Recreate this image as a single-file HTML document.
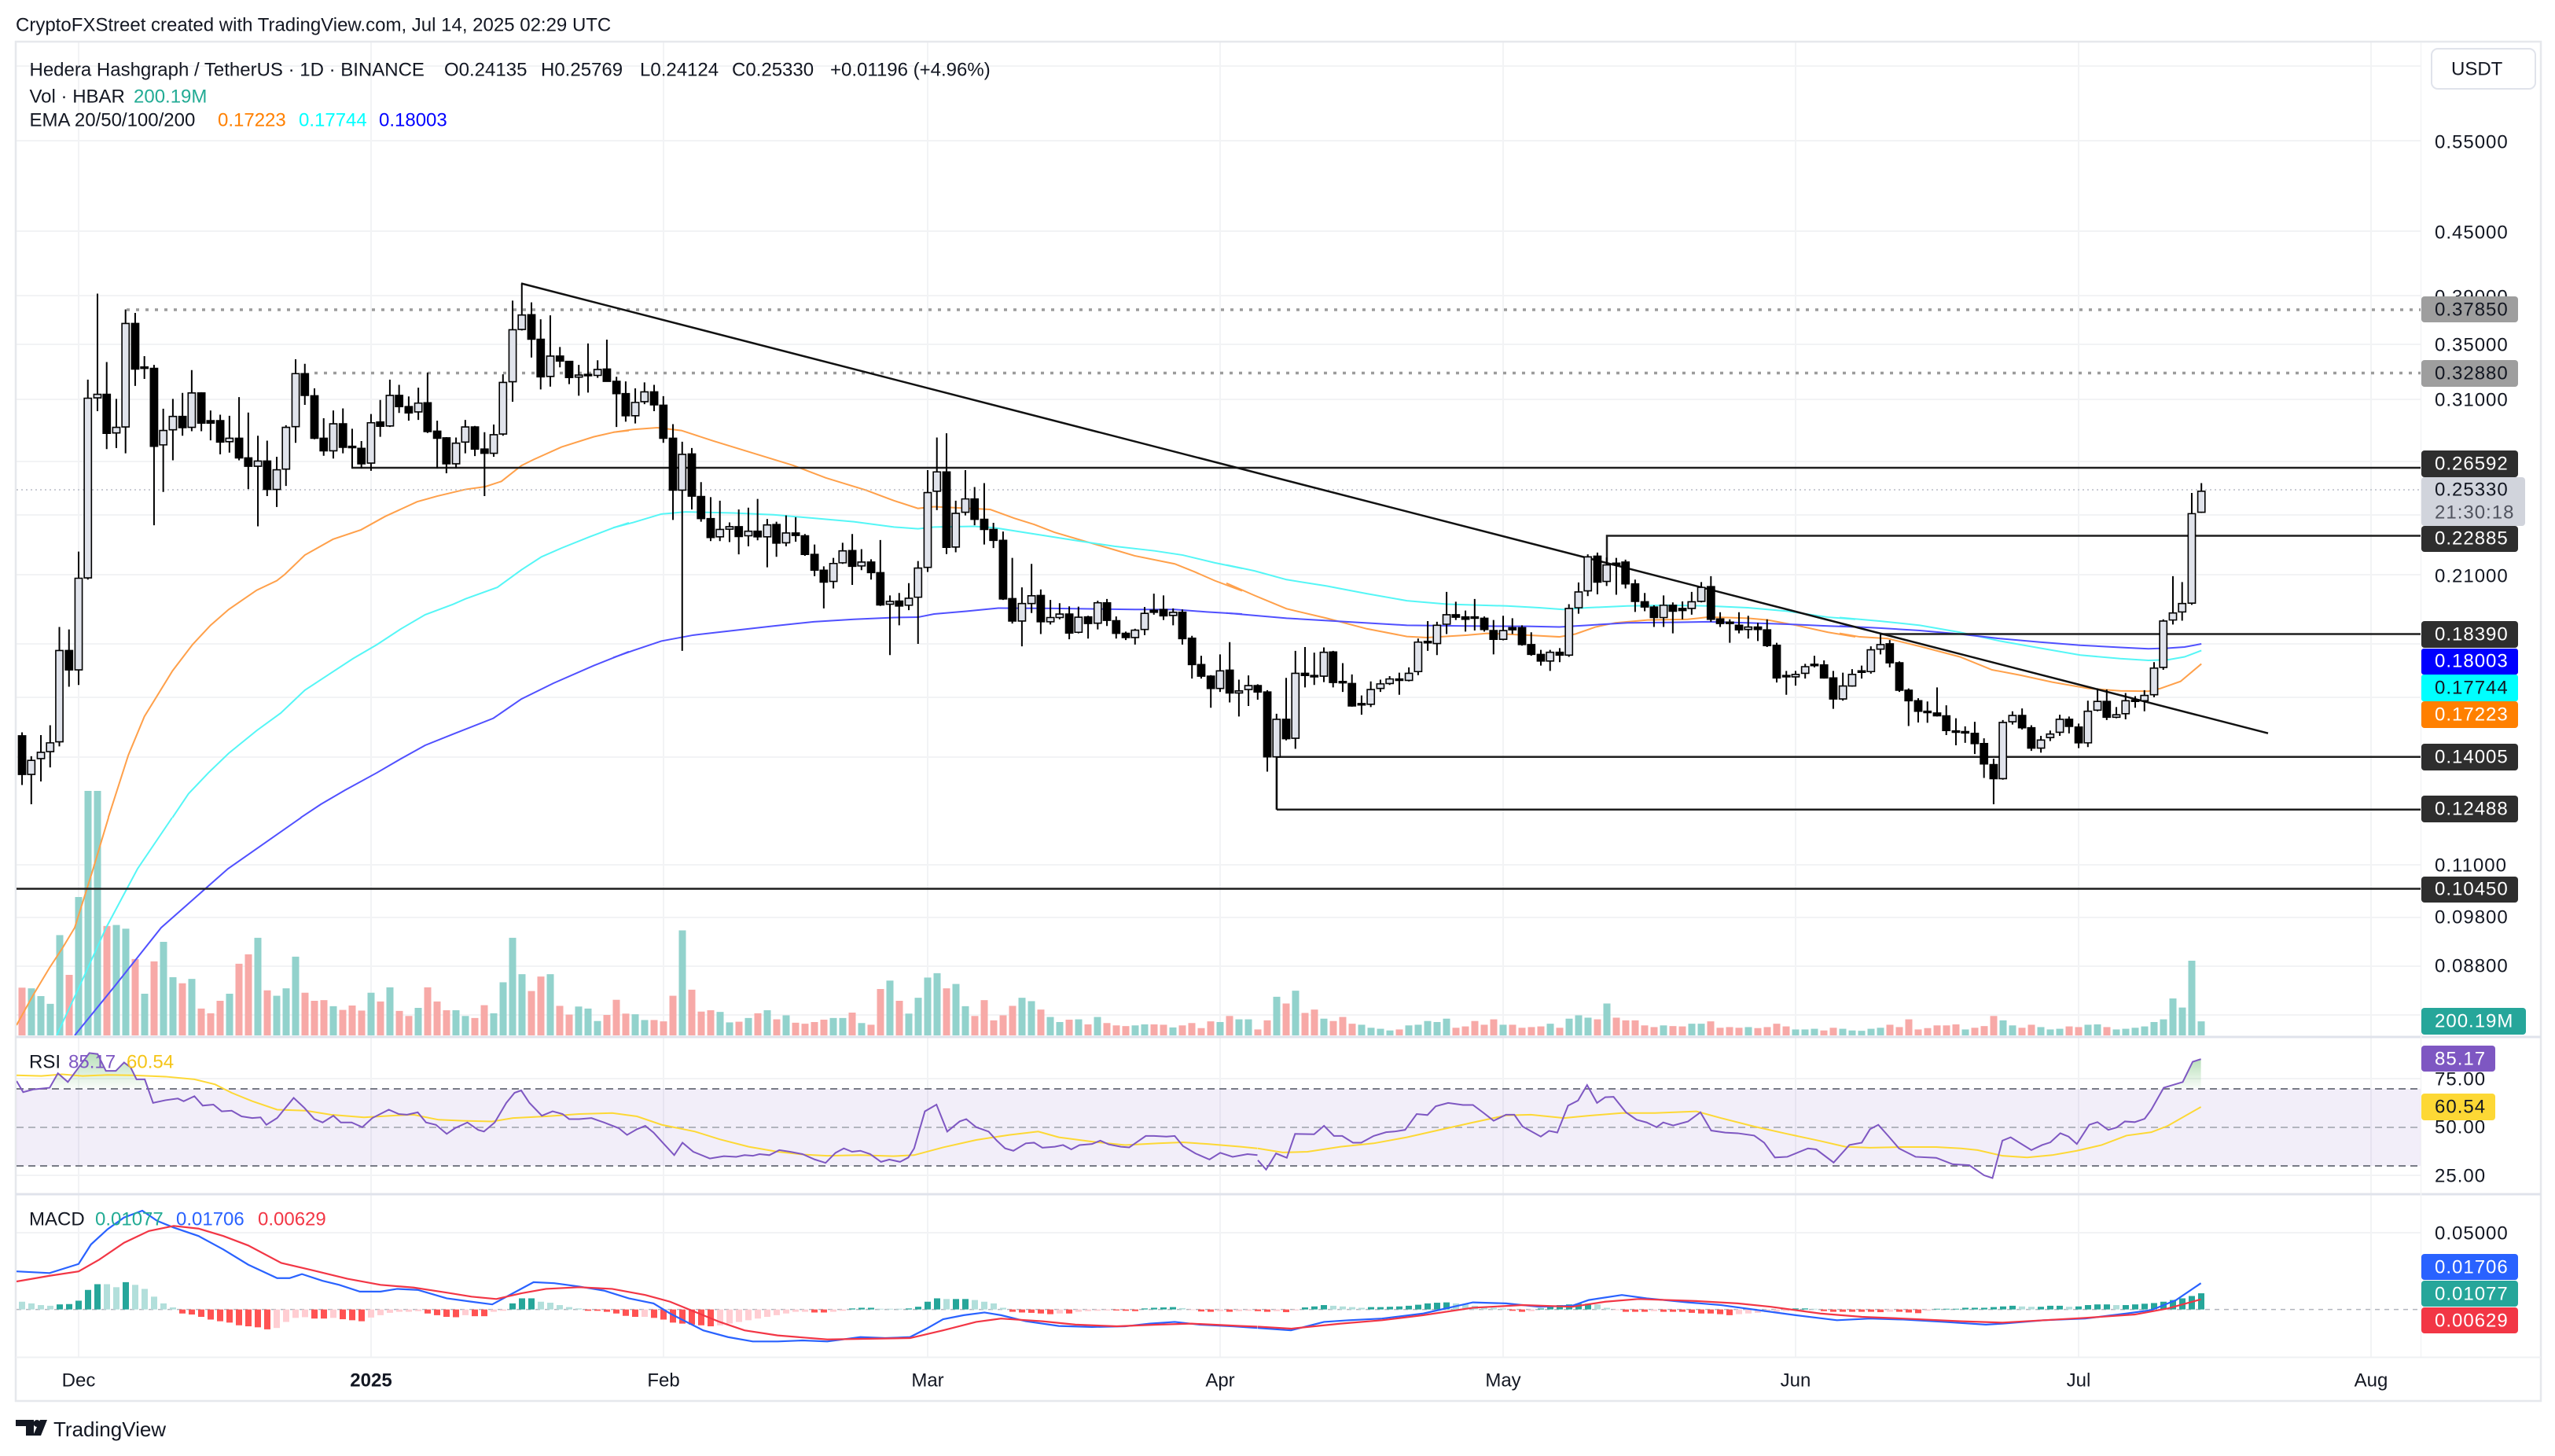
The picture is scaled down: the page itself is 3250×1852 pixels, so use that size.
<!DOCTYPE html>
<html><head><meta charset="utf-8"><style>
html,body{margin:0;padding:0;background:#fff;width:3250px;height:1852px;overflow:hidden}
svg{display:block}
svg *{vector-effect:non-scaling-stroke}
text{font-family:"Liberation Sans",Arial,sans-serif}
</style></head><body>
<svg width="3250" height="1852" viewBox="0 0 3250 1852" xmlns="http://www.w3.org/2000/svg">
<defs>
<clipPath id="cm"><rect x="21" y="54" width="3058" height="1263"/></clipPath>
<clipPath id="cr"><rect x="21" y="1320" width="3058" height="197"/></clipPath>
<clipPath id="cd"><rect x="21" y="1520" width="3058" height="206"/></clipPath>
<linearGradient id="gg" x1="0" y1="0" x2="0" y2="1"><stop offset="0" stop-color="#4caf50" stop-opacity="0.4"/><stop offset="1" stop-color="#4caf50" stop-opacity="0.03"/></linearGradient>
</defs>
<rect width="3250" height="1852" fill="#fff"/>

<!-- header -->
<text x="20" y="32" font-size="24" fill="#131722" dominant-baseline="central">CryptoFXStreet created with TradingView.com, Jul 14, 2025 02:29 UTC</text>

<!-- grid -->
<g stroke="#f2f3f5" stroke-width="2" fill="none">
<path d="M21 84H3079M21 179H3079M21 294H3079M21 376H3079M21 438H3079M21 508H3079M21 587H3079M21 655H3079M21 731H3079M21 819H3079M21 887H3079M21 963H3079M21 1100H3079M21 1167H3079M21 1229H3079M21 1291H3079"/>
<path d="M21 1372H3079M21 1495H3079M21 1568H3079"/>
<path d="M100 54V1726M472 54V1726M844 54V1726M1180 54V1726M1552 54V1726M1912 54V1726M2284 54V1726M2644 54V1726M3016 54V1726"/>
</g>

<!-- frame -->
<g fill="none" stroke="#e6e8ec" stroke-width="2.5">
<path d="M20 53H3232V1782H20Z"/>
</g>
<path d="M20 1319H3232M20 1519H3232" stroke="#e0e3eb" stroke-width="3"/>
<path d="M20 1726.5H3232" stroke="#eff0f3" stroke-width="2"/>
<path d="M3079.5 54V1726" stroke="#f3f4f6" stroke-width="1.5"/>

<!-- legend -->
<g font-size="24" fill="#131722" dominant-baseline="central">
<text x="37.5" y="89">Hedera Hashgraph / TetherUS · 1D · BINANCE</text>
<text x="565" y="89">O0.24135</text>
<text x="688" y="89">H0.25769</text>
<text x="814" y="89">L0.24124</text>
<text x="931" y="89">C0.25330</text>
<text x="1056" y="89">+0.01196 (+4.96%)</text>
<text x="37.5" y="123">Vol · HBAR</text>
<text x="170" y="123" fill="#22ab94">200.19M</text>
<text x="37.5" y="153">EMA 20/50/100/200</text>
<text x="277" y="153" fill="#ff8000">0.17223</text>
<text x="380" y="153" fill="#00ffff">0.17744</text>
<text x="482" y="153" fill="#0000ff">0.18003</text>
</g>

<!-- MAIN PANE -->
<g clip-path="url(#cm)">
<!-- volume -->
<g transform="translate(0,1180) scale(1,0.4286)">
<g fill="#92d2cc">
<rect x="35.5" y="180" width="9" height="140"/><rect x="47.5" y="203" width="9" height="117"/><rect x="59.5" y="226" width="9" height="94"/><rect x="71.5" y="22" width="9" height="298"/><rect x="95.5" y="-91" width="9" height="411"/><rect x="107.5" y="-406" width="9" height="726"/><rect x="119.5" y="-406" width="9" height="726"/><rect x="143.5" y="-8" width="9" height="328"/><rect x="155.5" y="3" width="9" height="317"/><rect x="179.5" y="196" width="9" height="124"/><rect x="203.5" y="42" width="9" height="278"/><rect x="215.5" y="147" width="9" height="173"/><rect x="239.5" y="152" width="9" height="168"/><rect x="287.5" y="196" width="9" height="124"/><rect x="323.5" y="30" width="9" height="290"/><rect x="347.5" y="202" width="9" height="118"/><rect x="359.5" y="180" width="9" height="140"/><rect x="371.5" y="86" width="9" height="234"/><rect x="419.5" y="233" width="9" height="87"/><rect x="467.5" y="193" width="9" height="127"/><rect x="491.5" y="177" width="9" height="143"/><rect x="527.5" y="238" width="9" height="82"/><rect x="575.5" y="245" width="9" height="75"/><rect x="587.5" y="262" width="9" height="58"/><rect x="623.5" y="254" width="9" height="66"/><rect x="635.5" y="162" width="9" height="158"/><rect x="647.5" y="30" width="9" height="290"/><rect x="659.5" y="138" width="9" height="182"/><rect x="695.5" y="138" width="9" height="182"/><rect x="731.5" y="234" width="9" height="86"/><rect x="743.5" y="240" width="9" height="80"/><rect x="755.5" y="277" width="9" height="43"/><rect x="803.5" y="257" width="9" height="63"/><rect x="815.5" y="274" width="9" height="46"/><rect x="863.5" y="8" width="9" height="312"/><rect x="911.5" y="250" width="9" height="70"/><rect x="923.5" y="281" width="9" height="39"/><rect x="947.5" y="268" width="9" height="52"/><rect x="971.5" y="245" width="9" height="75"/><rect x="995.5" y="260" width="9" height="60"/><rect x="1055.5" y="268" width="9" height="52"/><rect x="1067.5" y="268" width="9" height="52"/><rect x="1091.5" y="283" width="9" height="37"/><rect x="1127.5" y="157" width="9" height="163"/><rect x="1151.5" y="255" width="9" height="65"/><rect x="1163.5" y="208" width="9" height="112"/><rect x="1175.5" y="148" width="9" height="172"/><rect x="1187.5" y="135" width="9" height="185"/><rect x="1211.5" y="167" width="9" height="153"/><rect x="1223.5" y="233" width="9" height="87"/><rect x="1295.5" y="208" width="9" height="112"/><rect x="1307.5" y="218" width="9" height="102"/><rect x="1331.5" y="265" width="9" height="55"/><rect x="1343.5" y="280" width="9" height="40"/><rect x="1367.5" y="272" width="9" height="48"/><rect x="1391.5" y="265" width="9" height="55"/><rect x="1439.5" y="290" width="9" height="30"/><rect x="1451.5" y="287" width="9" height="33"/><rect x="1487.5" y="296" width="9" height="24"/><rect x="1547.5" y="280" width="9" height="40"/><rect x="1571.5" y="272" width="9" height="48"/><rect x="1583.5" y="272" width="9" height="48"/><rect x="1619.5" y="205" width="9" height="115"/><rect x="1643.5" y="187" width="9" height="133"/><rect x="1679.5" y="270" width="9" height="50"/><rect x="1727.5" y="288" width="9" height="32"/><rect x="1739.5" y="297" width="9" height="23"/><rect x="1751.5" y="300" width="9" height="20"/><rect x="1763.5" y="305" width="9" height="15"/><rect x="1787.5" y="290" width="9" height="30"/><rect x="1799.5" y="288" width="9" height="32"/><rect x="1811.5" y="277" width="9" height="43"/><rect x="1823.5" y="280" width="9" height="40"/><rect x="1835.5" y="270" width="9" height="50"/><rect x="1907.5" y="288" width="9" height="32"/><rect x="1967.5" y="285" width="9" height="35"/><rect x="1991.5" y="270" width="9" height="50"/><rect x="2003.5" y="260" width="9" height="60"/><rect x="2015.5" y="267" width="9" height="53"/><rect x="2039.5" y="225" width="9" height="95"/><rect x="2111.5" y="290" width="9" height="30"/><rect x="2147.5" y="285" width="9" height="35"/><rect x="2159.5" y="285" width="9" height="35"/><rect x="2219.5" y="295" width="9" height="25"/><rect x="2279.5" y="302" width="9" height="18"/><rect x="2291.5" y="302" width="9" height="18"/><rect x="2303.5" y="300" width="9" height="20"/><rect x="2339.5" y="300" width="9" height="20"/><rect x="2351.5" y="305" width="9" height="15"/><rect x="2363.5" y="306" width="9" height="14"/><rect x="2375.5" y="300" width="9" height="20"/><rect x="2387.5" y="297" width="9" height="23"/><rect x="2495.5" y="302" width="9" height="18"/><rect x="2543.5" y="275" width="9" height="45"/><rect x="2555.5" y="290" width="9" height="30"/><rect x="2591.5" y="295" width="9" height="25"/><rect x="2603.5" y="302" width="9" height="18"/><rect x="2615.5" y="300" width="9" height="20"/><rect x="2651.5" y="288" width="9" height="32"/><rect x="2663.5" y="287" width="9" height="33"/><rect x="2687.5" y="302" width="9" height="18"/><rect x="2699.5" y="300" width="9" height="20"/><rect x="2711.5" y="297" width="9" height="23"/><rect x="2723.5" y="293" width="9" height="27"/><rect x="2735.5" y="280" width="9" height="40"/><rect x="2747.5" y="272" width="9" height="48"/><rect x="2759.5" y="210" width="9" height="110"/><rect x="2771.5" y="237" width="9" height="83"/><rect x="2783.5" y="98" width="9" height="222"/><rect x="2795.5" y="278" width="9" height="42"/>
</g>
<g fill="#f7a9a7">
<rect x="23.5" y="178" width="9" height="142"/><rect x="83.5" y="140" width="9" height="180"/><rect x="131.5" y="-5" width="9" height="325"/><rect x="167.5" y="93" width="9" height="227"/><rect x="191.5" y="100" width="9" height="220"/><rect x="227.5" y="165" width="9" height="155"/><rect x="251.5" y="240" width="9" height="80"/><rect x="263.5" y="254" width="9" height="66"/><rect x="275.5" y="217" width="9" height="103"/><rect x="299.5" y="107" width="9" height="213"/><rect x="311.5" y="79" width="9" height="241"/><rect x="335.5" y="186" width="9" height="134"/><rect x="383.5" y="193" width="9" height="127"/><rect x="395.5" y="217" width="9" height="103"/><rect x="407.5" y="215" width="9" height="105"/><rect x="431.5" y="244" width="9" height="76"/><rect x="443.5" y="231" width="9" height="89"/><rect x="455.5" y="246" width="9" height="74"/><rect x="479.5" y="219" width="9" height="101"/><rect x="503.5" y="247" width="9" height="73"/><rect x="515.5" y="262" width="9" height="58"/><rect x="539.5" y="177" width="9" height="143"/><rect x="551.5" y="219" width="9" height="101"/><rect x="563.5" y="245" width="9" height="75"/><rect x="599.5" y="268" width="9" height="52"/><rect x="611.5" y="230" width="9" height="90"/><rect x="671.5" y="188" width="9" height="132"/><rect x="683.5" y="145" width="9" height="175"/><rect x="707.5" y="232" width="9" height="88"/><rect x="719.5" y="258" width="9" height="62"/><rect x="767.5" y="259" width="9" height="61"/><rect x="779.5" y="214" width="9" height="106"/><rect x="791.5" y="255" width="9" height="65"/><rect x="827.5" y="274" width="9" height="46"/><rect x="839.5" y="278" width="9" height="42"/><rect x="851.5" y="202" width="9" height="118"/><rect x="875.5" y="184" width="9" height="136"/><rect x="887.5" y="249" width="9" height="71"/><rect x="899.5" y="245" width="9" height="75"/><rect x="935.5" y="279" width="9" height="41"/><rect x="959.5" y="254" width="9" height="66"/><rect x="983.5" y="272" width="9" height="48"/><rect x="1007.5" y="282" width="9" height="38"/><rect x="1019.5" y="285" width="9" height="35"/><rect x="1031.5" y="280" width="9" height="40"/><rect x="1043.5" y="273" width="9" height="47"/><rect x="1079.5" y="252" width="9" height="68"/><rect x="1103.5" y="288" width="9" height="32"/><rect x="1115.5" y="182" width="9" height="138"/><rect x="1139.5" y="217" width="9" height="103"/><rect x="1199.5" y="180" width="9" height="140"/><rect x="1235.5" y="262" width="9" height="58"/><rect x="1247.5" y="215" width="9" height="105"/><rect x="1259.5" y="275" width="9" height="45"/><rect x="1271.5" y="260" width="9" height="60"/><rect x="1283.5" y="232" width="9" height="88"/><rect x="1319.5" y="243" width="9" height="77"/><rect x="1355.5" y="273" width="9" height="47"/><rect x="1379.5" y="287" width="9" height="33"/><rect x="1403.5" y="283" width="9" height="37"/><rect x="1415.5" y="290" width="9" height="30"/><rect x="1427.5" y="292" width="9" height="28"/><rect x="1463.5" y="287" width="9" height="33"/><rect x="1475.5" y="288" width="9" height="32"/><rect x="1499.5" y="290" width="9" height="30"/><rect x="1511.5" y="283" width="9" height="37"/><rect x="1523.5" y="298" width="9" height="22"/><rect x="1535.5" y="278" width="9" height="42"/><rect x="1559.5" y="262" width="9" height="58"/><rect x="1595.5" y="302" width="9" height="18"/><rect x="1607.5" y="275" width="9" height="45"/><rect x="1631.5" y="225" width="9" height="95"/><rect x="1655.5" y="253" width="9" height="67"/><rect x="1667.5" y="243" width="9" height="77"/><rect x="1691.5" y="277" width="9" height="43"/><rect x="1703.5" y="265" width="9" height="55"/><rect x="1715.5" y="285" width="9" height="35"/><rect x="1775.5" y="302" width="9" height="18"/><rect x="1847.5" y="297" width="9" height="23"/><rect x="1859.5" y="293" width="9" height="27"/><rect x="1871.5" y="277" width="9" height="43"/><rect x="1883.5" y="288" width="9" height="32"/><rect x="1895.5" y="272" width="9" height="48"/><rect x="1919.5" y="288" width="9" height="32"/><rect x="1931.5" y="297" width="9" height="23"/><rect x="1943.5" y="295" width="9" height="25"/><rect x="1955.5" y="293" width="9" height="27"/><rect x="1979.5" y="297" width="9" height="23"/><rect x="2027.5" y="272" width="9" height="48"/><rect x="2051.5" y="267" width="9" height="53"/><rect x="2063.5" y="275" width="9" height="45"/><rect x="2075.5" y="275" width="9" height="45"/><rect x="2087.5" y="290" width="9" height="30"/><rect x="2099.5" y="295" width="9" height="25"/><rect x="2123.5" y="292" width="9" height="28"/><rect x="2135.5" y="293" width="9" height="27"/><rect x="2171.5" y="278" width="9" height="42"/><rect x="2183.5" y="297" width="9" height="23"/><rect x="2195.5" y="295" width="9" height="25"/><rect x="2207.5" y="297" width="9" height="23"/><rect x="2231.5" y="298" width="9" height="22"/><rect x="2243.5" y="295" width="9" height="25"/><rect x="2255.5" y="285" width="9" height="35"/><rect x="2267.5" y="293" width="9" height="27"/><rect x="2315.5" y="305" width="9" height="15"/><rect x="2327.5" y="297" width="9" height="23"/><rect x="2399.5" y="288" width="9" height="32"/><rect x="2411.5" y="295" width="9" height="25"/><rect x="2423.5" y="272" width="9" height="48"/><rect x="2435.5" y="302" width="9" height="18"/><rect x="2447.5" y="298" width="9" height="22"/><rect x="2459.5" y="290" width="9" height="30"/><rect x="2471.5" y="290" width="9" height="30"/><rect x="2483.5" y="287" width="9" height="33"/><rect x="2507.5" y="297" width="9" height="23"/><rect x="2519.5" y="292" width="9" height="28"/><rect x="2531.5" y="262" width="9" height="58"/><rect x="2567.5" y="297" width="9" height="23"/><rect x="2579.5" y="288" width="9" height="32"/><rect x="2627.5" y="293" width="9" height="27"/><rect x="2639.5" y="295" width="9" height="25"/><rect x="2675.5" y="295" width="9" height="25"/>
</g>
</g>

<!-- EMA lines lower extension -->
<g fill="none" stroke-width="2">
<polyline stroke="#ffa04a" points="21,1304 42,1266 63,1231 80,1205 95,1180 117,1110 138,1040"/>
<polyline stroke="#55f6f6" points="72,1317 100,1257 135,1180 175,1105 219,1040"/>
<polyline stroke="#5050ff" points="95,1317 147,1253 205,1180 290,1105 383,1040"/>
</g>

<!-- EMA lines zoom groups -->
<g fill="none" stroke-width="2">
<g transform="translate(0,340) scale(0.5102,0.4464)">
<polyline stroke="#ffa04a" points="270,1568 320,1390 360,1280 430,1150 480,1075 525,1020 570,975 640,920 690,893 710,875 760,820 830,775 900,748 960,710 1040,668 1090,652 1160,633 1210,625 1250,610 1300,565 1330,548 1400,512 1480,483 1530,470 1568,465"/>
<polyline stroke="#55f6f6" points="430,1568 470,1500 520,1440 570,1385 640,1320 700,1270 760,1205 820,1160 880,1115 940,1075 1000,1030 1060,990 1130,960 1160,945 1240,912 1300,862 1350,825 1400,800 1470,768 1530,742 1568,728"/>
<polyline stroke="#5050ff" points="750,1568 800,1530 860,1490 940,1440 1000,1400 1060,1362 1130,1330 1230,1285 1300,1230 1380,1185 1480,1135 1568,1095"/>
</g>
<g transform="translate(780,340) scale(0.5102,0.4464)">
<polyline stroke="#ffa04a" points="0,470 50,462 110,457 170,465 250,495 350,530 450,565 530,600 630,635 700,665 760,687 800,682 850,685 940,690 1000,715 1050,733 1100,755 1180,782 1250,805 1300,822 1400,845 1450,868 1500,893 1568,922"/>
<polyline stroke="#55f6f6" points="0,742 50,727 120,703 180,697 300,700 400,705 500,715 600,725 700,740 760,745 800,740 900,738 950,742 1050,760 1150,778 1250,795 1350,808 1420,820 1500,842 1568,858"/>
<polyline stroke="#5050ff" points="0,1112 50,1092 120,1065 200,1048 300,1035 400,1022 500,1010 600,1003 700,998 760,997 800,988 880,980 960,971 1100,972 1300,975 1400,975 1480,982 1568,988"/>
</g>
<g transform="translate(1560,340) scale(0.5102,0.4464)">
<polyline stroke="#ffa04a" points="0,900 70,935 150,973 250,1000 350,1030 450,1052 500,1055 600,1048 650,1043 750,1048 830,1053 870,1045 920,1025 970,1013 1050,1005 1150,1003 1200,997 1250,998 1300,1000 1350,1005 1420,1020 1500,1040 1568,1053"/>
<polyline stroke="#55f6f6" points="0,848 70,865 150,890 250,908 350,930 450,950 550,960 700,965 780,970 840,975 900,970 1000,965 1100,963 1200,965 1300,970 1400,980 1500,997 1568,1003"/>
<polyline stroke="#5050ff" points="0,985 150,1000 300,1010 450,1020 600,1022 750,1023 830,1025 900,1020 1000,1013 1100,1012 1200,1010 1300,1013 1400,1017 1500,1022 1568,1025"/>
</g>
<g transform="translate(2340,340) scale(0.5102,0.4464)">
<polyline stroke="#ffa04a" points="0,1043 50,1053 120,1058 200,1080 300,1110 380,1147 450,1162 530,1182 620,1200 700,1207 770,1208 800,1200 850,1180 902,1130"/>
<polyline stroke="#55f6f6" points="0,998 100,1008 200,1020 300,1040 400,1065 500,1085 600,1105 700,1115 770,1120 820,1118 860,1110 902,1092"/>
<polyline stroke="#5050ff" points="0,1022 100,1028 200,1035 300,1045 400,1058 500,1068 600,1077 700,1083 770,1087 820,1085 860,1082 902,1073"/>
</g>
</g>

<!-- level lines -->
<g fill="none">
<path d="M161 394H3079M400 474.5H3079" stroke="#9c9c9c" stroke-width="3.5" stroke-dasharray="4 8"/>
<path d="M21 623H3079" stroke="#b8bcc6" stroke-width="1.5" stroke-dasharray="2 4"/>
<path d="M447 595H3079M2044 718.5V681.5H3079M2392 806.5H3079M1624 1029.7V962.7H3079M1624 1029.7H3079M21 1130.5H3079" stroke="#1e1e1e" stroke-width="2.5"/>
<path d="M663 360.5L2885 932.7" stroke="#111" stroke-width="2.5"/>
</g>

<!-- candles -->
<g stroke="#000" stroke-width="1.6">
<g transform="translate(0,340) scale(0.5102,0.4464)">
<path fill="none" stroke-width="2" d="M55 1325V1475M78 1393V1530M102 1333V1465M125 1305V1425M148 1025V1365M172 1032V1195M196 810V1190M219 320V890M243 75V410M266 270V518M290 375V515M313 120V530M337 130V338M360 253V318M384 278V735M407 403V640M431 375V550M455 358V480M478 293V467M502 356V467M525 408V493M549 420V533M572 423V528M596 370V550M619 414V632M643 480V738M666 494V652M690 540V683M713 450V623M737 262V500M760 275V392M784 345V490M807 430V537M831 408V545M855 402V530M878 460V572M901 495V572M925 418V580M948 378V483M972 320V455M995 335V415M1019 368V437M1043 343V435M1066 300V472M1090 437V572M1113 484V587M1137 485V572M1160 435V530M1184 452V538M1208 470V652M1231 448V540M1254 305V480M1278 95V383M1301 46V180M1325 100V257M1348 148V348M1372 137V340M1396 227V285M1419 268V333M1443 278V366M1466 217V357M1490 265V315M1513 206V325M1537 312V455M1560 325V440"/>
<g fill="#000">
<rect x="46" y="1335" width="18" height="110"/><rect x="163" y="1092" width="18" height="55"/><rect x="257" y="362" width="18" height="111"/><rect x="328" y="160" width="18" height="130"/><rect x="351" y="284" width="18" height="4"/><rect x="375" y="288" width="18" height="222"/><rect x="446" y="425" width="18" height="32"/><rect x="493" y="358" width="18" height="86"/><rect x="516" y="437" width="18" height="7"/><rect x="540" y="437" width="18" height="61"/><rect x="587" y="487" width="18" height="56"/><rect x="610" y="543" width="18" height="24"/><rect x="657" y="552" width="18" height="81"/><rect x="751" y="303" width="18" height="62"/><rect x="775" y="366" width="18" height="121"/><rect x="798" y="487" width="18" height="36"/><rect x="846" y="446" width="18" height="67"/><rect x="869" y="510" width="18" height="4"/><rect x="892" y="516" width="18" height="44"/><rect x="939" y="441" width="18" height="12"/><rect x="986" y="365" width="18" height="32"/><rect x="1010" y="397" width="18" height="18"/><rect x="1057" y="386" width="18" height="82"/><rect x="1081" y="467" width="18" height="20"/><rect x="1104" y="486" width="18" height="74"/><rect x="1175" y="455" width="18" height="63"/><rect x="1199" y="518" width="18" height="12"/><rect x="1316" y="135" width="18" height="70"/><rect x="1339" y="205" width="18" height="107"/><rect x="1387" y="253" width="18" height="14"/><rect x="1410" y="268" width="18" height="46"/><rect x="1457" y="305" width="18" height="4"/><rect x="1504" y="290" width="18" height="35"/><rect x="1528" y="325" width="18" height="35"/><rect x="1551" y="360" width="18" height="63"/>
</g>
<g fill="#e0e3eb">
<rect x="69" y="1405" width="18" height="40"/><rect x="93" y="1382" width="18" height="18"/><rect x="116" y="1355" width="18" height="25"/><rect x="139" y="1092" width="18" height="260"/><rect x="187" y="886" width="18" height="261"/><rect x="210" y="373" width="18" height="512"/><rect x="234" y="362" width="18" height="10"/><rect x="281" y="456" width="18" height="16"/><rect x="304" y="160" width="18" height="295"/><rect x="398" y="465" width="18" height="41"/><rect x="422" y="425" width="18" height="38"/><rect x="469" y="358" width="18" height="98"/><rect x="563" y="487" width="18" height="10"/><rect x="634" y="552" width="18" height="15"/><rect x="681" y="577" width="18" height="56"/><rect x="704" y="456" width="18" height="119"/><rect x="728" y="303" width="18" height="151"/><rect x="822" y="446" width="18" height="77"/><rect x="916" y="443" width="18" height="115"/><rect x="963" y="365" width="18" height="87"/><rect x="1034" y="387" width="18" height="25"/><rect x="1128" y="501" width="18" height="59"/><rect x="1151" y="455" width="18" height="43"/><rect x="1222" y="477" width="18" height="53"/><rect x="1245" y="328" width="18" height="147"/><rect x="1269" y="178" width="18" height="148"/><rect x="1292" y="136" width="18" height="41"/><rect x="1363" y="253" width="18" height="58"/><rect x="1434" y="307" width="18" height="6"/><rect x="1481" y="291" width="18" height="17"/>
</g>
</g>

<g transform="translate(780,340) scale(0.5102,0.4464)">
<path fill="none" stroke-width="2" d="M55 345V445M78 328V390M102 335V410M125 367V500M149 447V720M172 497V1093M196 515V690M219 612V725M243 655V780M266 665V780M290 727V783M313 690V818M337 685V795M360 660V778M384 717V855M407 725V825M431 707V795M455 712V782M478 760V822M502 790V880M525 852V972M549 828V915M572 785V845M596 760V905M619 803V863M643 832V890M666 777V965M690 935V1105M713 928V1020M737 900V977M760 837V1073M784 578V868M807 485V692M831 473V817M854 665V812M878 578V707M901 626V735M925 615V790M948 728V800M972 753V948M995 828V1015M1019 912V1080M1043 845V985M1066 918V1045M1090 948V1018M1113 957V1003M1137 966V1060M1160 967V1043M1184 993V1058M1208 950V1032M1231 945V1022M1254 995V1058M1278 1038V1062M1301 1030V1075M1325 968V1048M1348 930V990M1372 935V1005M1396 972V1020M1419 975V1075M1443 1050V1172M1466 1107V1172M1490 1162V1255M1513 1103V1210M1537 1068V1240M1560 1175V1280"/>
<g fill="#000">
<rect x="93" y="355" width="18" height="37"/><rect x="116" y="393" width="18" height="94"/><rect x="140" y="487" width="18" height="148"/><rect x="187" y="532" width="18" height="120"/><rect x="210" y="653" width="18" height="63"/><rect x="234" y="716" width="18" height="54"/><rect x="304" y="739" width="18" height="28"/><rect x="351" y="752" width="18" height="16"/><rect x="398" y="733" width="18" height="53"/><rect x="446" y="757" width="18" height="7"/><rect x="469" y="765" width="18" height="53"/><rect x="493" y="818" width="18" height="45"/><rect x="516" y="863" width="18" height="34"/><rect x="587" y="807" width="18" height="45"/><rect x="634" y="840" width="18" height="30"/><rect x="657" y="870" width="18" height="92"/><rect x="704" y="951" width="18" height="14"/><rect x="822" y="583" width="18" height="215"/><rect x="892" y="660" width="18" height="58"/><rect x="916" y="718" width="18" height="29"/><rect x="939" y="747" width="18" height="31"/><rect x="963" y="778" width="18" height="167"/><rect x="986" y="944" width="18" height="64"/><rect x="1057" y="935" width="18" height="75"/><rect x="1128" y="988" width="18" height="54"/><rect x="1175" y="996" width="18" height="19"/><rect x="1222" y="956" width="18" height="50"/><rect x="1245" y="1007" width="18" height="36"/><rect x="1269" y="1043" width="18" height="12"/><rect x="1339" y="977" width="18" height="6"/><rect x="1363" y="975" width="18" height="18"/><rect x="1410" y="983" width="18" height="75"/><rect x="1434" y="1057" width="18" height="75"/><rect x="1457" y="1132" width="18" height="33"/><rect x="1481" y="1165" width="18" height="35"/><rect x="1528" y="1148" width="18" height="65"/>
</g>
<g fill="#e0e3eb">
<rect x="46" y="385" width="18" height="38"/><rect x="69" y="355" width="18" height="28"/><rect x="163" y="533" width="18" height="102"/><rect x="257" y="747" width="18" height="21"/><rect x="281" y="739" width="18" height="7"/><rect x="328" y="752" width="18" height="13"/><rect x="375" y="734" width="18" height="34"/><rect x="422" y="757" width="18" height="28"/><rect x="540" y="844" width="18" height="51"/><rect x="563" y="808" width="18" height="34"/><rect x="610" y="840" width="18" height="11"/><rect x="681" y="952" width="18" height="8"/><rect x="728" y="943" width="18" height="20"/><rect x="751" y="857" width="18" height="83"/><rect x="775" y="642" width="18" height="213"/><rect x="798" y="583" width="18" height="55"/><rect x="845" y="701" width="18" height="96"/><rect x="869" y="660" width="18" height="38"/><rect x="1010" y="958" width="18" height="50"/><rect x="1034" y="936" width="18" height="22"/><rect x="1081" y="998" width="18" height="12"/><rect x="1104" y="988" width="18" height="10"/><rect x="1151" y="997" width="18" height="43"/><rect x="1199" y="956" width="18" height="58"/><rect x="1292" y="1034" width="18" height="21"/><rect x="1316" y="986" width="18" height="46"/><rect x="1387" y="983" width="18" height="9"/><rect x="1504" y="1150" width="18" height="50"/><rect x="1551" y="1207" width="18" height="6"/>
</g>
</g>

<g transform="translate(1560,340) scale(0.5102,0.4464)">
<path fill="none" stroke-width="2" d="M55 1163V1250M78 1188V1232M102 1205V1437M125 1272V1545M149 1170V1348M172 1093V1372M196 1082V1197M219 1098V1190M243 1083V1182M266 1093V1197M290 1128V1210M313 1160V1252M337 1220V1275M360 1180V1253M384 1175V1210M407 1165V1190M431 1155V1218M455 1140V1180M478 1058V1162M502 1008V1093M525 1010V1105M549 925V1045M572 953V1005M596 978V1038M619 945V1035M643 995V1038M666 1005V1103M690 993V1063M713 1000V1045M737 1020V1078M760 1040V1107M784 1090V1135M807 1090V1150M831 1085V1125M854 960V1110M878 898V987M901 818V937M925 813V932M948 827V908M972 828V933M995 833V915M1019 890V982M1043 928V980M1066 963V1025M1090 935V1025M1113 955V1043M1137 952V1003M1160 925V990M1184 897V955M1208 880V1010M1231 983V1025M1255 1003V1070M1278 983V1043M1301 993V1058M1325 1013V1065M1348 1003V1082M1372 1070V1183M1396 1150V1218M1419 1150V1192M1443 1130V1172M1466 1107V1140M1490 1120V1172M1513 1150V1258M1537 1155V1235M1560 1145V1195"/>
<g fill="#000">
<rect x="69" y="1192" width="18" height="18"/><rect x="93" y="1210" width="18" height="185"/><rect x="140" y="1288" width="18" height="55"/><rect x="187" y="1157" width="18" height="6"/><rect x="210" y="1163" width="18" height="4"/><rect x="257" y="1096" width="18" height="87"/><rect x="281" y="1180" width="18" height="4"/><rect x="304" y="1186" width="18" height="64"/><rect x="328" y="1243" width="18" height="4"/><rect x="422" y="1173" width="18" height="4"/><rect x="493" y="1066" width="18" height="4"/><rect x="563" y="990" width="18" height="7"/><rect x="587" y="996" width="18" height="7"/><rect x="610" y="996" width="18" height="4"/><rect x="634" y="1000" width="18" height="32"/><rect x="657" y="1035" width="18" height="25"/><rect x="704" y="1027" width="18" height="6"/><rect x="728" y="1027" width="18" height="48"/><rect x="751" y="1075" width="18" height="28"/><rect x="775" y="1103" width="18" height="19"/><rect x="822" y="1097" width="18" height="8"/><rect x="916" y="823" width="18" height="74"/><rect x="963" y="843" width="18" height="5"/><rect x="986" y="840" width="18" height="62"/><rect x="1010" y="902" width="18" height="50"/><rect x="1034" y="953" width="18" height="15"/><rect x="1057" y="968" width="18" height="30"/><rect x="1104" y="963" width="18" height="17"/><rect x="1128" y="972" width="18" height="6"/><rect x="1199" y="910" width="18" height="93"/><rect x="1222" y="1002" width="18" height="13"/><rect x="1246" y="1011" width="18" height="4"/><rect x="1269" y="1020" width="18" height="13"/><rect x="1316" y="1025" width="18" height="7"/><rect x="1339" y="1033" width="18" height="45"/><rect x="1363" y="1077" width="18" height="93"/><rect x="1387" y="1163" width="18" height="4"/><rect x="1457" y="1131" width="18" height="4"/><rect x="1481" y="1133" width="18" height="37"/><rect x="1504" y="1170" width="18" height="60"/>
</g>
<g fill="#e0e3eb">
<rect x="46" y="1192" width="18" height="11"/><rect x="116" y="1288" width="18" height="107"/><rect x="163" y="1157" width="18" height="185"/><rect x="234" y="1097" width="18" height="68"/><rect x="351" y="1203" width="18" height="42"/><rect x="375" y="1187" width="18" height="13"/><rect x="398" y="1173" width="18" height="13"/><rect x="446" y="1157" width="18" height="20"/><rect x="469" y="1068" width="18" height="84"/><rect x="516" y="1020" width="18" height="52"/><rect x="540" y="990" width="18" height="27"/><rect x="681" y="1035" width="18" height="25"/><rect x="798" y="1097" width="18" height="25"/><rect x="845" y="972" width="18" height="133"/><rect x="869" y="925" width="18" height="45"/><rect x="892" y="825" width="18" height="97"/><rect x="939" y="848" width="18" height="47"/><rect x="1081" y="963" width="18" height="35"/><rect x="1151" y="953" width="18" height="19"/><rect x="1175" y="912" width="18" height="40"/><rect x="1292" y="1025" width="18" height="7"/><rect x="1410" y="1160" width="18" height="7"/><rect x="1434" y="1138" width="18" height="19"/><rect x="1528" y="1193" width="18" height="37"/><rect x="1551" y="1160" width="18" height="33"/>
</g>
</g>

<g transform="translate(2340,340) scale(0.5102,0.4464)">
<path fill="none" stroke-width="2" d="M55 1135V1172M78 1080V1158M102 1045V1103M125 1062V1140M149 1123V1210M172 1200V1307M196 1228V1297M219 1237V1298M243 1197V1280M266 1248V1333M290 1285V1362M313 1308V1355M337 1295V1387M360 1342V1455M384 1400V1530M407 1290V1460M431 1265V1303M455 1257V1317M478 1305V1378M502 1335V1383M525 1320V1350M549 1275V1335M572 1280V1328M596 1300V1370M619 1235V1367M643 1200V1265M666 1203V1290M690 1253V1285M713 1213V1288M737 1222V1255M760 1205V1265M784 1125V1225M807 1003V1147M831 880V1018M854 897V1007M878 643V962M902 615V700"/>
<g fill="#000">
<rect x="46" y="1150" width="18" height="4"/><rect x="116" y="1073" width="18" height="54"/><rect x="140" y="1127" width="18" height="78"/><rect x="163" y="1205" width="18" height="30"/><rect x="187" y="1235" width="18" height="30"/><rect x="210" y="1265" width="18" height="4"/><rect x="234" y="1270" width="18" height="8"/><rect x="257" y="1278" width="18" height="42"/><rect x="281" y="1321" width="18" height="4"/><rect x="304" y="1323" width="18" height="4"/><rect x="328" y="1328" width="18" height="29"/><rect x="351" y="1357" width="18" height="58"/><rect x="375" y="1417" width="18" height="40"/><rect x="446" y="1277" width="18" height="35"/><rect x="469" y="1312" width="18" height="58"/><rect x="563" y="1288" width="18" height="20"/><rect x="587" y="1310" width="18" height="45"/><rect x="657" y="1237" width="18" height="45"/><rect x="728" y="1233" width="18" height="4"/>
</g>
<g fill="#e0e3eb">
<rect x="69" y="1090" width="18" height="62"/><rect x="93" y="1075" width="18" height="13"/><rect x="398" y="1297" width="18" height="160"/><rect x="422" y="1277" width="18" height="18"/><rect x="493" y="1347" width="18" height="23"/><rect x="516" y="1330" width="18" height="10"/><rect x="540" y="1288" width="18" height="37"/><rect x="610" y="1265" width="18" height="90"/><rect x="634" y="1237" width="18" height="25"/><rect x="681" y="1275" width="18" height="7"/><rect x="704" y="1235" width="18" height="37"/><rect x="751" y="1220" width="18" height="15"/><rect x="775" y="1142" width="18" height="76"/><rect x="798" y="1008" width="18" height="132"/><rect x="822" y="985" width="18" height="20"/><rect x="845" y="958" width="18" height="24"/><rect x="869" y="702" width="18" height="255"/><rect x="893" y="638" width="18" height="60"/>
</g>
</g>
</g>
</g>

<!-- RSI PANE -->
<g clip-path="url(#cr)">
<rect x="21" y="1385" width="3058" height="98" fill="#7e57c2" fill-opacity="0.1"/>
<path d="M21 1385H3079M21 1483H3079" stroke="#787b86" stroke-width="2" stroke-dasharray="9 6" fill="none"/>
<path d="M21 1434H3079" stroke="#b2b5be" stroke-width="2" stroke-dasharray="9 6" fill="none"/>
<g transform="translate(0,1180) scale(1.0523,0.4286)">
<polygon fill="url(#gg)" points="58,478 60,475 70,432 82,458 95,415 108,372 118,375 128,425 140,425 150,400 158,415 165,450 175,450 179,478"/>
<polyline fill="none" stroke="#fdd835" stroke-width="2" points="20,438 50,440 75,435 100,440 130,437 160,438 200,442 235,450 260,465 280,490 305,515 335,540 370,543 400,555 440,563 480,557 500,555 530,570 560,573 595,575 620,565 660,560 700,553 740,550 770,560 800,585 840,605 870,628 905,650 940,665 970,673 1000,677 1040,675 1080,678 1105,675 1140,652 1180,630 1220,615 1255,605 1280,622 1320,635 1360,645 1400,640 1430,637 1460,642 1500,650 1520,655"/>
<polyline fill="none" stroke="#7e57c2" stroke-width="2" points="20,455 28,488 40,480 60,475 70,432 82,458 95,415 108,372 118,375 128,425 140,425 150,400 158,415 165,450 175,450 185,520 200,512 215,507 222,515 235,500 245,528 258,525 268,545 280,543 292,560 305,565 315,563 322,585 335,565 345,535 355,505 368,535 380,568 390,578 403,558 412,578 425,578 438,592 450,565 470,540 482,553 492,555 505,548 515,578 527,585 540,612 550,595 565,578 578,600 585,605 598,578 612,520 622,490 630,483 640,520 655,558 668,545 680,553 688,568 700,568 715,565 730,578 748,595 758,615 770,598 780,588 790,608 800,635 815,675 825,638 838,665 858,685 875,678 890,680 900,675 910,677 918,672 930,675 942,660 955,665 970,672 985,688 998,698 1010,668 1020,655 1030,665 1040,662 1052,672 1065,695 1075,688 1088,695 1098,682 1105,655 1118,545 1132,525 1145,605 1160,575 1168,568 1180,592 1195,605 1205,632 1215,655 1225,662 1240,640 1250,638 1260,653 1275,650 1285,645 1295,658 1305,645 1320,642 1330,632 1340,643 1355,650 1365,652 1375,635 1385,618 1395,618 1410,620 1420,618 1430,648 1445,670 1462,688 1475,668 1490,680 1508,672 1520,675"/>
</g>
<g transform="translate(1600,1180) scale(1.0523,0.4286)">
<polygon fill="url(#gg)" points="1093,478 1095,475 1118,458 1130,398 1140,390 1140,478"/>
<polyline fill="none" stroke="#fdd835" stroke-width="2" points="0,655 30,667 60,665 100,650 140,640 180,622 220,600 260,578 300,557 330,555 370,565 400,558 440,550 480,550 530,545 560,565 600,590 640,612 680,633 710,650 740,653 780,651 820,651 850,655 870,660 900,677 930,682 960,675 990,662 1020,645 1050,617 1080,607 1100,588 1140,532"/>
<polyline fill="none" stroke="#7e57c2" stroke-width="2" points="0,690 10,718 22,670 35,683 45,612 68,613 80,588 92,618 102,618 115,638 125,638 140,618 155,607 165,605 178,600 192,553 205,556 215,530 230,520 248,526 260,526 272,548 285,573 300,555 310,555 320,590 342,620 352,603 362,608 375,528 387,513 398,467 410,520 420,503 430,502 445,548 458,570 470,578 482,592 490,578 502,587 520,575 535,548 548,602 565,608 580,610 600,617 612,638 625,682 640,680 665,655 675,658 696,697 715,645 730,638 740,598 750,585 762,618 775,655 795,680 820,683 840,702 860,705 878,735 888,743 900,632 910,622 935,660 948,645 958,637 970,610 980,620 990,642 1005,585 1015,577 1028,600 1038,593 1048,575 1060,577 1072,567 1080,540 1095,475 1118,458 1130,398 1140,390"/>
</g>
</g>

<!-- MACD PANE -->
<g clip-path="url(#cd)">
<path d="M21 1665.6H3079" stroke="#b2b5be" stroke-width="1.5" stroke-dasharray="6 6" fill="none"/>
<g transform="translate(0,1180) scale(1,0.4286)">
<g fill="#26a69a">
<rect x="72" y="1118" width="8" height="15"/><rect x="84" y="1117" width="8" height="16"/><rect x="96" y="1107" width="8" height="26"/><rect x="108" y="1075" width="8" height="58"/><rect x="120" y="1058" width="8" height="75"/><rect x="156" y="1052" width="8" height="81"/><rect x="648" y="1115" width="8" height="18"/><rect x="660" y="1100" width="8" height="33"/><rect x="672" y="1100" width="8" height="33"/><rect x="1080" y="1130" width="8" height="3"/><rect x="1092" y="1128" width="8" height="5"/><rect x="1104" y="1128" width="8" height="5"/><rect x="1152" y="1130" width="8" height="3"/><rect x="1164" y="1125" width="8" height="8"/><rect x="1176" y="1110" width="8" height="23"/><rect x="1188" y="1100" width="8" height="33"/><rect x="1212" y="1102" width="8" height="31"/><rect x="1224" y="1102" width="8" height="31"/><rect x="1452" y="1130" width="8" height="3"/><rect x="1464" y="1128" width="8" height="5"/><rect x="1476" y="1127" width="8" height="6"/><rect x="1488" y="1126" width="8" height="7"/><rect x="1656" y="1127" width="8" height="6"/><rect x="1668" y="1124" width="8" height="9"/><rect x="1680" y="1120" width="8" height="13"/><rect x="1740" y="1126" width="8" height="7"/><rect x="1752" y="1126" width="8" height="7"/><rect x="1764" y="1125" width="8" height="8"/><rect x="1776" y="1124" width="8" height="9"/><rect x="1788" y="1122" width="8" height="11"/><rect x="1800" y="1119" width="8" height="14"/><rect x="1812" y="1115" width="8" height="18"/><rect x="1824" y="1113" width="8" height="20"/><rect x="1836" y="1112" width="8" height="21"/><rect x="1956" y="1130" width="8" height="3"/><rect x="1968" y="1125" width="8" height="8"/><rect x="1980" y="1120" width="8" height="13"/><rect x="1992" y="1118" width="8" height="15"/><rect x="2004" y="1116" width="8" height="17"/><rect x="2016" y="1116" width="8" height="17"/><rect x="2280" y="1130" width="8" height="3"/><rect x="2292" y="1130" width="8" height="3"/><rect x="2460" y="1131" width="8" height="2"/><rect x="2472" y="1131" width="8" height="2"/><rect x="2484" y="1131" width="8" height="2"/><rect x="2496" y="1128" width="8" height="5"/><rect x="2508" y="1128" width="8" height="5"/><rect x="2520" y="1128" width="8" height="5"/><rect x="2532" y="1126" width="8" height="7"/><rect x="2544" y="1124" width="8" height="9"/><rect x="2556" y="1122" width="8" height="11"/><rect x="2592" y="1125" width="8" height="8"/><rect x="2604" y="1122" width="8" height="11"/><rect x="2616" y="1122" width="8" height="11"/><rect x="2640" y="1124" width="8" height="9"/><rect x="2652" y="1120" width="8" height="13"/><rect x="2664" y="1118" width="8" height="15"/><rect x="2676" y="1118" width="8" height="15"/><rect x="2700" y="1120" width="8" height="13"/><rect x="2712" y="1118" width="8" height="15"/><rect x="2724" y="1116" width="8" height="17"/><rect x="2736" y="1114" width="8" height="19"/><rect x="2748" y="1110" width="8" height="23"/><rect x="2760" y="1105" width="8" height="28"/><rect x="2772" y="1100" width="8" height="33"/><rect x="2784" y="1093" width="8" height="40"/><rect x="2796" y="1085" width="8" height="48"/>
</g>
<g fill="#b2dfdb">
<rect x="24" y="1110" width="8" height="23"/><rect x="36" y="1115" width="8" height="18"/><rect x="48" y="1120" width="8" height="13"/><rect x="60" y="1122" width="8" height="11"/><rect x="132" y="1058" width="8" height="75"/><rect x="144" y="1067" width="8" height="66"/><rect x="168" y="1060" width="8" height="73"/><rect x="180" y="1072" width="8" height="61"/><rect x="192" y="1095" width="8" height="38"/><rect x="204" y="1115" width="8" height="18"/><rect x="216" y="1127" width="8" height="6"/><rect x="684" y="1110" width="8" height="23"/><rect x="696" y="1113" width="8" height="20"/><rect x="708" y="1120" width="8" height="13"/><rect x="720" y="1126" width="8" height="7"/><rect x="732" y="1130" width="8" height="3"/><rect x="1116" y="1131" width="8" height="2"/><rect x="1128" y="1131" width="8" height="2"/><rect x="1140" y="1131" width="8" height="2"/><rect x="1200" y="1102" width="8" height="31"/><rect x="1236" y="1105" width="8" height="28"/><rect x="1248" y="1110" width="8" height="23"/><rect x="1260" y="1115" width="8" height="18"/><rect x="1272" y="1128" width="8" height="5"/><rect x="1500" y="1129" width="8" height="4"/><rect x="1692" y="1122" width="8" height="11"/><rect x="1704" y="1124" width="8" height="9"/><rect x="1716" y="1126" width="8" height="7"/><rect x="1728" y="1128" width="8" height="5"/><rect x="1848" y="1115" width="8" height="18"/><rect x="1860" y="1118" width="8" height="15"/><rect x="1872" y="1122" width="8" height="11"/><rect x="1884" y="1125" width="8" height="8"/><rect x="1896" y="1128" width="8" height="5"/><rect x="1908" y="1130" width="8" height="3"/><rect x="2028" y="1118" width="8" height="15"/><rect x="2040" y="1128" width="8" height="5"/><rect x="2304" y="1131" width="8" height="2"/><rect x="2568" y="1124" width="8" height="9"/><rect x="2580" y="1125" width="8" height="8"/><rect x="2628" y="1125" width="8" height="8"/><rect x="2688" y="1120" width="8" height="13"/>
</g>
<g fill="#ff5252">
<rect x="228" y="1133" width="8" height="12"/><rect x="240" y="1133" width="8" height="15"/><rect x="252" y="1133" width="8" height="22"/><rect x="264" y="1133" width="8" height="30"/><rect x="276" y="1133" width="8" height="35"/><rect x="288" y="1133" width="8" height="39"/><rect x="300" y="1133" width="8" height="47"/><rect x="312" y="1133" width="8" height="50"/><rect x="324" y="1133" width="8" height="53"/><rect x="336" y="1133" width="8" height="59"/><rect x="396" y="1133" width="8" height="27"/><rect x="408" y="1133" width="8" height="27"/><rect x="432" y="1133" width="8" height="29"/><rect x="444" y="1133" width="8" height="32"/><rect x="456" y="1133" width="8" height="35"/><rect x="540" y="1133" width="8" height="12"/><rect x="552" y="1133" width="8" height="17"/><rect x="564" y="1133" width="8" height="22"/><rect x="576" y="1133" width="8" height="23"/><rect x="600" y="1133" width="8" height="20"/><rect x="612" y="1133" width="8" height="20"/><rect x="744" y="1133" width="8" height="4"/><rect x="756" y="1133" width="8" height="4"/><rect x="768" y="1133" width="8" height="7"/><rect x="780" y="1133" width="8" height="12"/><rect x="792" y="1133" width="8" height="19"/><rect x="804" y="1133" width="8" height="22"/><rect x="828" y="1133" width="8" height="25"/><rect x="840" y="1133" width="8" height="30"/><rect x="852" y="1133" width="8" height="39"/><rect x="864" y="1133" width="8" height="42"/><rect x="876" y="1133" width="8" height="45"/><rect x="888" y="1133" width="8" height="47"/><rect x="900" y="1133" width="8" height="50"/><rect x="1032" y="1133" width="8" height="9"/><rect x="1044" y="1133" width="8" height="9"/><rect x="1284" y="1133" width="8" height="7"/><rect x="1296" y="1133" width="8" height="9"/><rect x="1308" y="1133" width="8" height="10"/><rect x="1320" y="1133" width="8" height="12"/><rect x="1332" y="1133" width="8" height="14"/><rect x="1356" y="1133" width="8" height="12"/><rect x="1416" y="1133" width="8" height="3"/><rect x="1428" y="1133" width="8" height="4"/><rect x="1440" y="1133" width="8" height="5"/><rect x="1524" y="1133" width="8" height="6"/><rect x="1536" y="1133" width="8" height="7"/><rect x="1560" y="1133" width="8" height="7"/><rect x="1596" y="1133" width="8" height="5"/><rect x="1608" y="1133" width="8" height="7"/><rect x="1632" y="1133" width="8" height="8"/><rect x="1920" y="1133" width="8" height="4"/><rect x="1932" y="1133" width="8" height="7"/><rect x="2064" y="1133" width="8" height="7"/><rect x="2076" y="1133" width="8" height="7"/><rect x="2088" y="1133" width="8" height="7"/><rect x="2112" y="1133" width="8" height="7"/><rect x="2124" y="1133" width="8" height="7"/><rect x="2136" y="1133" width="8" height="7"/><rect x="2148" y="1133" width="8" height="10"/><rect x="2160" y="1133" width="8" height="12"/><rect x="2172" y="1133" width="8" height="12"/><rect x="2184" y="1133" width="8" height="14"/><rect x="2196" y="1133" width="8" height="17"/><rect x="2316" y="1133" width="8" height="5"/><rect x="2328" y="1133" width="8" height="7"/><rect x="2340" y="1133" width="8" height="7"/><rect x="2352" y="1133" width="8" height="7"/><rect x="2364" y="1133" width="8" height="7"/><rect x="2376" y="1133" width="8" height="7"/><rect x="2388" y="1133" width="8" height="8"/><rect x="2412" y="1133" width="8" height="7"/><rect x="2424" y="1133" width="8" height="9"/><rect x="2436" y="1133" width="8" height="11"/>
</g>
<g fill="#ffcdd2">
<rect x="348" y="1133" width="8" height="55"/><rect x="360" y="1133" width="8" height="37"/><rect x="372" y="1133" width="8" height="25"/><rect x="384" y="1133" width="8" height="23"/><rect x="420" y="1133" width="8" height="25"/><rect x="468" y="1133" width="8" height="24"/><rect x="480" y="1133" width="8" height="17"/><rect x="492" y="1133" width="8" height="10"/><rect x="504" y="1133" width="8" height="7"/><rect x="516" y="1133" width="8" height="7"/><rect x="528" y="1133" width="8" height="5"/><rect x="588" y="1133" width="8" height="17"/><rect x="624" y="1133" width="8" height="7"/><rect x="636" y="1133" width="8" height="4"/><rect x="816" y="1133" width="8" height="22"/><rect x="912" y="1133" width="8" height="47"/><rect x="924" y="1133" width="8" height="42"/><rect x="936" y="1133" width="8" height="37"/><rect x="948" y="1133" width="8" height="32"/><rect x="960" y="1133" width="8" height="27"/><rect x="972" y="1133" width="8" height="22"/><rect x="984" y="1133" width="8" height="17"/><rect x="996" y="1133" width="8" height="12"/><rect x="1008" y="1133" width="8" height="7"/><rect x="1020" y="1133" width="8" height="7"/><rect x="1056" y="1133" width="8" height="7"/><rect x="1068" y="1133" width="8" height="4"/><rect x="1344" y="1133" width="8" height="12"/><rect x="1368" y="1133" width="8" height="7"/><rect x="1380" y="1133" width="8" height="5"/><rect x="1392" y="1133" width="8" height="4"/><rect x="1404" y="1133" width="8" height="3"/><rect x="1512" y="1133" width="8" height="2"/><rect x="1548" y="1133" width="8" height="5"/><rect x="1572" y="1133" width="8" height="5"/><rect x="1584" y="1133" width="8" height="4"/><rect x="1620" y="1133" width="8" height="5"/><rect x="1644" y="1133" width="8" height="3"/><rect x="1944" y="1133" width="8" height="5"/><rect x="2052" y="1133" width="8" height="2"/><rect x="2100" y="1133" width="8" height="5"/><rect x="2208" y="1133" width="8" height="14"/><rect x="2220" y="1133" width="8" height="12"/><rect x="2232" y="1133" width="8" height="10"/><rect x="2244" y="1133" width="8" height="8"/><rect x="2256" y="1133" width="8" height="7"/><rect x="2268" y="1133" width="8" height="5"/><rect x="2400" y="1133" width="8" height="7"/><rect x="2448" y="1133" width="8" height="4"/>
</g>
</g>
<g transform="translate(0,1180) scale(1.0523,0.4286)" fill="none" stroke-width="2.2">
<polyline stroke="#2962ff" points="20,1020 60,1025 95,998 110,940 130,895 150,860 172,840 190,870 210,890 240,915 270,955 300,1000 335,1040 350,1040 365,1028 390,1048 410,1060 435,1080 460,1080 480,1072 505,1075 540,1100 570,1110 595,1118 620,1085 645,1052 670,1055 700,1065 730,1077 760,1100 790,1115 810,1145 830,1170 850,1195 880,1215 910,1228 940,1228 970,1225 1000,1228 1040,1215 1070,1218 1100,1215 1120,1190 1140,1162 1165,1150 1190,1142 1210,1150 1240,1168 1280,1182 1320,1185 1360,1183 1390,1175 1420,1170 1450,1178 1490,1183 1520,1188"/>
<polyline stroke="#f23645" points="20,1050 60,1033 95,1020 120,985 150,935 180,900 210,885 240,893 270,915 300,943 340,995 380,1018 420,1042 460,1060 500,1068 540,1083 570,1095 600,1102 630,1085 660,1072 700,1067 740,1072 780,1090 810,1110 840,1140 870,1170 900,1195 940,1210 1000,1222 1050,1220 1100,1218 1140,1195 1180,1170 1210,1160 1260,1168 1300,1178 1350,1183 1400,1178 1440,1175 1500,1182 1520,1184"/>
</g>
<g transform="translate(1600,1180) scale(1.0523,0.4286)" fill="none" stroke-width="2.2">
<polyline stroke="#2962ff" points="0,1188 40,1195 80,1170 110,1165 150,1160 200,1145 260,1112 300,1115 340,1125 380,1122 400,1105 440,1090 470,1100 520,1112 560,1120 620,1140 650,1150 700,1165 740,1160 780,1163 830,1170 880,1178 900,1175 950,1165 1000,1160 1050,1145 1080,1135 1110,1105 1140,1055"/>
<polyline stroke="#f23645" points="0,1184 40,1190 100,1175 150,1165 200,1150 260,1128 320,1120 380,1125 420,1110 460,1102 530,1108 580,1115 620,1125 680,1145 730,1155 780,1160 850,1168 900,1172 950,1165 1000,1158 1060,1148 1100,1130 1140,1103"/>
</g>
</g>

<!-- pane legends -->
<g font-size="24" dominant-baseline="central">
<text x="37" y="1351" fill="#131722">RSI</text>
<text x="87" y="1351" fill="#7e57c2">85.17</text>
<text x="161" y="1351" fill="#f5c518">60.54</text>
<text x="37" y="1551" fill="#131722">MACD</text>
<text x="121" y="1551" fill="#22ab94">0.01077</text>
<text x="224" y="1551" fill="#2962ff">0.01706</text>
<text x="328" y="1551" fill="#f23645">0.00629</text>
</g>

<!-- price axis -->
<rect x="3093" y="62" width="132" height="51" rx="8" fill="#fff" stroke="#e0e3eb" stroke-width="2"/>
<text x="3118" y="88" font-size="24" fill="#131722" dominant-baseline="central">USDT</text>
<g font-size="24" fill="#131722" dominant-baseline="central" letter-spacing="1">
<text x="3097" y="181">0.55000</text>
<text x="3097" y="296">0.45000</text>
<text x="3097" y="378">0.39000</text>
<text x="3097" y="439">0.35000</text>
<text x="3097" y="509">0.31000</text>
<text x="3097" y="733">0.21000</text>
<text x="3097" y="1101">0.11000</text>
<text x="3097" y="1167">0.09800</text>
<text x="3097" y="1229">0.08800</text>
<text x="3097" y="1373">75.00</text>
<text x="3097" y="1434">50.00</text>
<text x="3097" y="1496">25.00</text>
<text x="3097" y="1569">0.05000</text>
</g>
<g>
<rect x="3080" y="377" width="123" height="33" rx="4" fill="#9e9e9e"/>
<rect x="3080" y="458" width="123" height="34" rx="4" fill="#9e9e9e"/>
<rect x="3080" y="573" width="123" height="34" rx="4" fill="#2e2e2e"/>
<rect x="3080" y="607" width="132" height="62" rx="4" fill="#d1d4dc"/>
<rect x="3080" y="669" width="123" height="33" rx="4" fill="#2e2e2e"/>
<rect x="3080" y="790" width="123" height="34" rx="4" fill="#2e2e2e"/>
<rect x="3080" y="825" width="123" height="33" rx="3" fill="#0000ff"/>
<rect x="3080" y="858" width="123" height="34" rx="3" fill="#00ffff"/>
<rect x="3080" y="892" width="123" height="34" rx="4" fill="#ff8000"/>
<rect x="3080" y="946" width="123" height="34" rx="4" fill="#2e2e2e"/>
<rect x="3080" y="1012" width="123" height="34" rx="4" fill="#2e2e2e"/>
<rect x="3080" y="1115" width="123" height="33" rx="4" fill="#2e2e2e"/>
<rect x="3080" y="1282" width="133" height="34" rx="4" fill="#26a69a"/>
<rect x="3080" y="1330" width="94" height="33" rx="4" fill="#7e57c2"/>
<rect x="3080" y="1391" width="94" height="34" rx="4" fill="#fdd835"/>
<rect x="3080" y="1595" width="123" height="33" rx="4" fill="#2962ff"/>
<rect x="3080" y="1629" width="123" height="33" rx="4" fill="#26a69a"/>
<rect x="3080" y="1663" width="123" height="33" rx="4" fill="#f23645"/>
</g>
<g font-size="24" dominant-baseline="central" letter-spacing="1">
<text x="3097" y="394" fill="#131722">0.37850</text>
<text x="3097" y="475" fill="#131722">0.32880</text>
<text x="3097" y="590" fill="#fff">0.26592</text>
<text x="3097" y="623" fill="#131722">0.25330</text>
<text x="3097" y="652" fill="#50535e">21:30:18</text>
<text x="3097" y="685" fill="#fff">0.22885</text>
<text x="3097" y="807" fill="#fff">0.18390</text>
<text x="3097" y="841" fill="#fff">0.18003</text>
<text x="3097" y="875" fill="#131722">0.17744</text>
<text x="3097" y="909" fill="#fff">0.17223</text>
<text x="3097" y="963" fill="#fff">0.14005</text>
<text x="3097" y="1029" fill="#fff">0.12488</text>
<text x="3097" y="1131" fill="#fff">0.10450</text>
<text x="3097" y="1299" fill="#fff">200.19M</text>
<text x="3097" y="1347" fill="#fff">85.17</text>
<text x="3097" y="1408" fill="#131722">60.54</text>
<text x="3097" y="1612" fill="#fff">0.01706</text>
<text x="3097" y="1646" fill="#fff">0.01077</text>
<text x="3097" y="1680" fill="#fff">0.00629</text>
</g>

<!-- time axis -->
<g font-size="24" fill="#131722" text-anchor="middle" dominant-baseline="central">
<text x="100" y="1756">Dec</text>
<text x="472" y="1756" font-weight="bold">2025</text>
<text x="844" y="1756">Feb</text>
<text x="1180" y="1756">Mar</text>
<text x="1552" y="1756">Apr</text>
<text x="1912" y="1756">May</text>
<text x="2284" y="1756">Jun</text>
<text x="2644" y="1756">Jul</text>
<text x="3016" y="1756">Aug</text>
</g>

<!-- TradingView logo -->
<g fill="#131722">
<path d="M20 1806H43V1826H33V1814H20Z"/>
<circle cx="47" cy="1810.5" r="4.5"/>
<path d="M51 1806H60L52 1826H42Z"/>
</g>
<text x="68" y="1818" font-size="26" fill="#131722" dominant-baseline="central">TradingView</text>
</svg>
</body></html>
